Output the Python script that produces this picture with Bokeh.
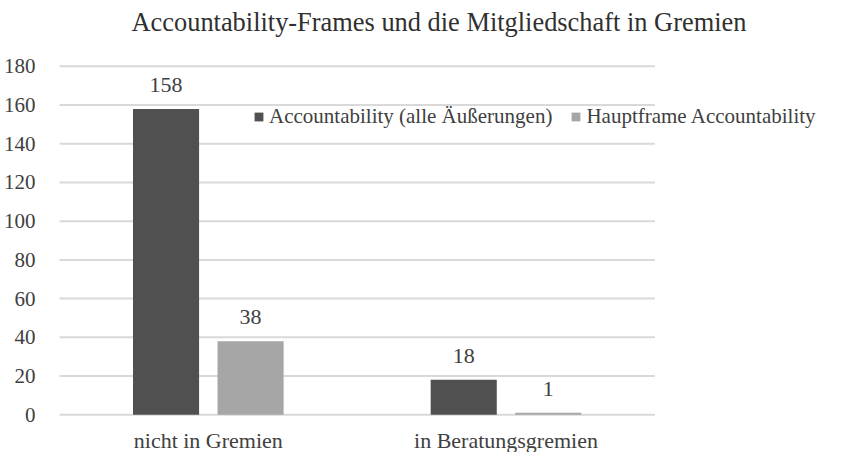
from bokeh.plotting import figure
from bokeh.models import ColumnDataSource, Legend, LegendItem, Range1d, FixedTicker
from bokeh.embed import file_html
from bokeh.resources import INLINE
from bokeh.core.properties import value

categories = ["nicht in Gremien", "in Beratungsgremien"]
series_names = ["Accountability (alle Äußerungen)", "Hauptframe Accountability"]
acc_all = [158, 18]
acc_main = [38, 1]
y_ticks = [0, 20, 40, 60, 80, 100, 120, 140, 160, 180]

DARK = "#505050"
LIGHT = "#a6a6a6"
GRID = "#d9d9d9"
TXT = "#404040"
FONT = "Liberation Serif"

xs = [i + 0.5 for i in range(len(categories))]
x_dark = [x - 0.142 for x in xs]
x_light = [x + 0.142 for x in xs]

src = ColumnDataSource(dict(xd=x_dark, xl=x_light, a=acc_all, b=acc_main,
                            la=[str(v) for v in acc_all], lb=[str(v) for v in acc_main]))

p = figure(width=825, height=452,
           x_range=Range1d(-0.01, 775 / 300 - 0.01), y_range=Range1d(-19.54, 193.37),
           output_backend="svg", toolbar_location=None,
           min_border_left=50, min_border_right=0, min_border_top=38, min_border_bottom=0)

# gridlines limited to the category area
p.segment(x0=0, x1=len(categories), y0=y_ticks, y1=y_ticks, line_color=GRID, line_width=2)

r1 = p.vbar(x="xd", top="a", bottom=0, width=0.222, source=src, fill_color=DARK, line_color=None)
r2 = p.vbar(x="xl", top="b", bottom=0, width=0.222, source=src, fill_color=LIGHT, line_color=None)

for col_x, col_y, col_t in (("xd", "a", "la"), ("xl", "b", "lb")):
    p.text(x=col_x, y=col_y, text=col_t, source=src, text_align="center", text_baseline="middle",
           y_offset=-24, text_font=value(FONT), text_font_size="22px", text_color=TXT)

p.title.text = "Accountability-Frames und die Mitgliedschaft in Gremien"
p.title.align = "left"
p.title.offset = 75
p.title.text_font = FONT
p.title.text_font_size = "26.4px"
p.title.text_font_style = "normal"
p.title.text_color = "#303030"
p.title.standoff = 8

p.outline_line_color = None
p.background_fill_color = "white"
p.border_fill_color = "white"
p.xgrid.grid_line_color = None
p.ygrid.grid_line_color = None

p.yaxis.ticker = FixedTicker(ticks=y_ticks)
p.yaxis.axis_line_color = None
p.yaxis.major_tick_line_color = None
p.yaxis.minor_tick_line_color = None
p.yaxis.major_label_standoff = 15
p.yaxis.major_label_text_font = FONT
p.yaxis.major_label_text_font_size = "21px"
p.yaxis.major_label_text_color = TXT

p.xaxis.ticker = FixedTicker(ticks=xs)
p.xaxis.major_label_overrides = {x: c for x, c in zip(xs, categories)}
p.xaxis.fixed_location = 0
p.xaxis.axis_line_color = None
p.xaxis.major_tick_line_color = None
p.xaxis.minor_tick_line_color = None
p.xaxis.major_label_standoff = 7
p.xaxis.major_label_text_font = FONT
p.xaxis.major_label_text_font_size = "22px"
p.xaxis.major_label_text_color = TXT

legend = Legend(items=[LegendItem(label=series_names[0], renderers=[r1]),
                       LegendItem(label=series_names[1], renderers=[r2])],
                orientation="horizontal", location=(197, 323),
                glyph_width=11, glyph_height=11, label_standoff=5, spacing=18,
                padding=0, margin=0, border_line_color=None, background_fill_alpha=0,
                label_text_font=FONT, label_text_font_size="21px", label_text_color=TXT)
p.add_layout(legend, "center")

open("out.html", "w").write(file_html(p, INLINE))
